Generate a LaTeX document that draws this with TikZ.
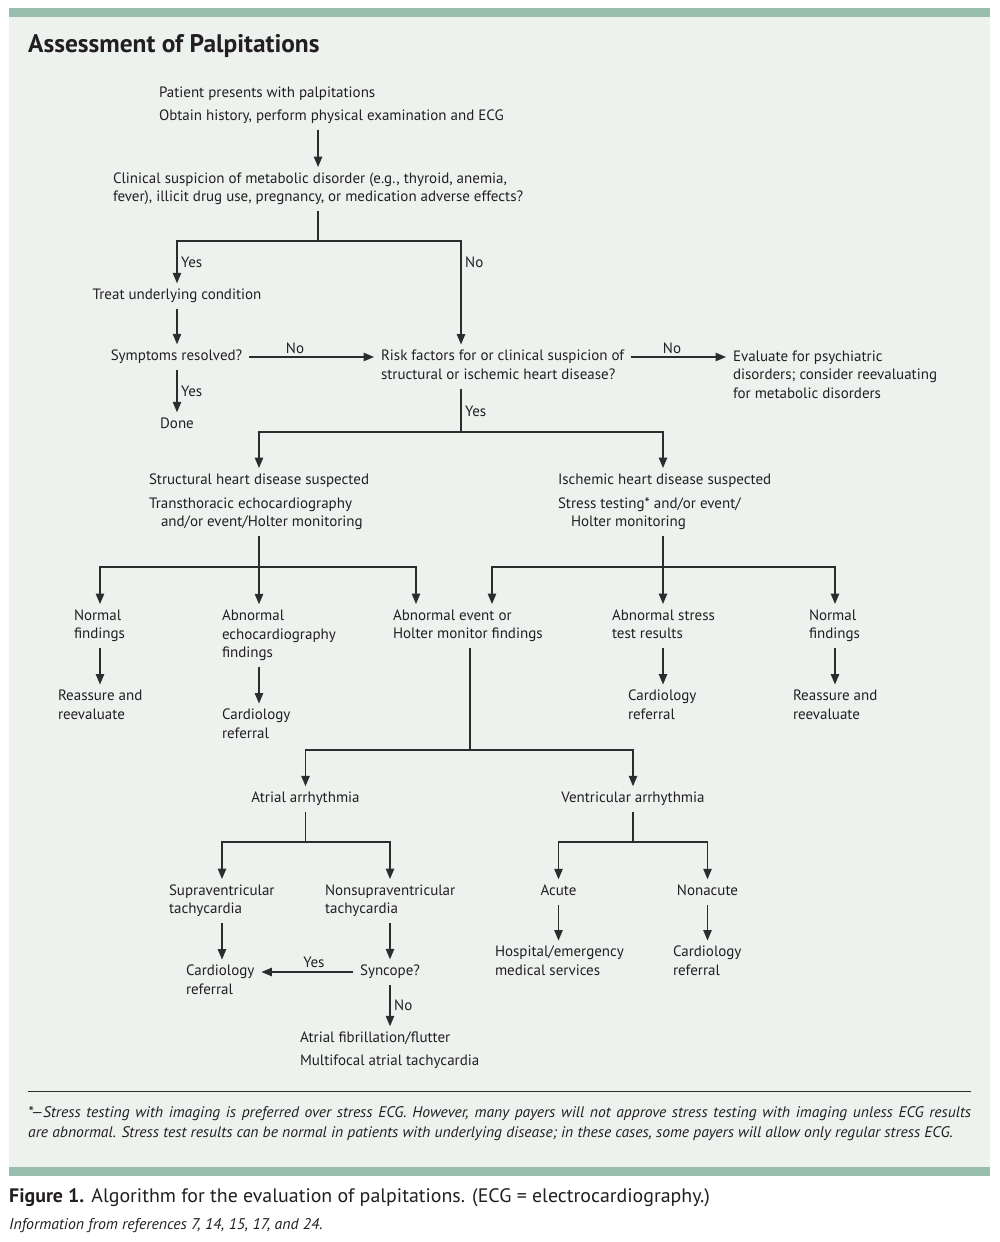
\documentclass[tikz,border=0pt]{standalone}
\usepackage{fontspec}
\setmainfont{PT Sans}
\newfontfamily\bodyf{PT Sans}
\newfontfamily\titlef{PT Sans}
\newfontfamily\notef{PT Sans}[FakeStretch=1.02]
\newfontfamily\capf{PT Sans}[FakeStretch=1.02]
\usetikzlibrary{arrows.meta}
\definecolor{bg}{RGB}{237,242,239}
\definecolor{bar}{RGB}{153,190,175}
\definecolor{ink}{RGB}{35,31,32}
\definecolor{linec}{RGB}{45,45,45}
\begin{document}
\begin{tikzpicture}[x=1pt,y=-1pt,
  txt/.style={font=\bodyf\fontsize{15}{18.5}\selectfont, text=ink, align=left, inner sep=0pt, outer xsep=7pt, outer ysep=3.5pt},
  lbl/.style={font=\bodyf\fontsize{15}{18.5}\selectfont, text=ink, inner sep=0pt},
  ln/.style={draw=linec, line width=1.2pt, line join=miter},
  arr/.style={ln, -{Triangle[length=10.5pt,width=8.5pt]}}]
\useasboundingbox (0,0) rectangle (1000,1242);
\fill[white] (0,0) rectangle (1000,1242);
\fill[bar] (9,8) rectangle (990,17);
\fill[bg] (9,17) rectangle (990,1167);
\fill[bar] (9,1167) rectangle (990,1176);

% column and level coordinates
\coordinate (xR) at (461,0);
\coordinate (xS) at (259,0);
\coordinate (xI) at (663,0);
\coordinate (xN1) at (100,0);
\coordinate (xE1) at (416,0);
\coordinate (xE2) at (492,0);
\coordinate (xN2) at (835,0);
\coordinate (xEv) at (470,0);
\coordinate (xSV) at (222,0);
\coordinate (xNS) at (390,0);
\coordinate (yA) at (0,241);
\coordinate (yB) at (0,432);
\coordinate (yC) at (0,567);
\coordinate (yD) at (0,750);
\coordinate (yE) at (0,842);

\node[anchor=base west, inner sep=0pt, text=ink, font=\titlef\bfseries\fontsize{25.4}{29}\selectfont] (title) at (28,52) {Assessment of Palpitations};

\node[txt, anchor=west] (n1) at (152,105.5) {\strut Patient presents with palpitations\\[4.5pt]Obtain history, perform physical examination and ECG\strut};
\node[txt, anchor=west] (n2) at (106,189) {\strut Clinical suspicion of metabolic disorder (e.g., thyroid, anemia,\\fever), illicit drug use, pregnancy, or medication adverse effects?\strut};
\node[txt] (n3) at (177,296) {\strut Treat underlying condition\strut};
\node[txt] (n4) at (176.5,357) {\strut Symptoms resolved?\strut};
\node[txt] (n5) at (177,425) {\strut Done\strut};
\node[txt, anchor=west] (n6) at (374,366.5) {\strut Risk factors for or clinical suspicion of\\structural or ischemic heart disease?\strut};
\node[txt, anchor=west] (n7) at (726,376) {\strut Evaluate for psychiatric\\disorders; consider reevaluating\\for metabolic disorders\strut};
\node[txt, anchor=west] (n8) at (142,502) {\strut Structural heart disease suspected\\[5.5pt]Transthoracic echocardiography\\\hspace*{12pt}and/or event/Holter monitoring\strut};
\node[txt, anchor=west] (n9) at (551,502) {\strut Ischemic heart disease suspected\\[5.5pt]Stress testing* and/or event/\\\hspace*{13pt}Holter monitoring\strut};
\node[txt, anchor=west] (n10a) at (67,626) {\strut Normal\\findings\strut};
\node[txt, anchor=west] (n10b) at (215,635.5) {\strut Abnormal\\echocardiography\\findings\strut};
\node[txt, anchor=west] (n10c) at (386,626) {\strut Abnormal event or\\Holter monitor findings\strut};
\node[txt, anchor=west] (n11b) at (605,626) {\strut Abnormal stress\\test results\strut};
\node[txt, anchor=west] (n11c) at (802,626) {\strut Normal\\findings\strut};
\node[txt, anchor=west] (n12a) at (51,706.5) {\strut Reassure and\\reevaluate\strut};
\node[txt, anchor=west] (n12b) at (215,725.5) {\strut Cardiology\\referral\strut};
\node[txt, anchor=west] (n13b) at (621,706.5) {\strut Cardiology\\referral\strut};
\node[txt, anchor=west] (n13c) at (786,706.5) {\strut Reassure and\\reevaluate\strut};
\node[txt] (n14) at (305.5,799) {\strut Atrial arrhythmia\strut};
\node[txt] (n15) at (633,799) {\strut Ventricular arrhythmia\strut};
\node[txt, anchor=west] (n16) at (162,901) {\strut Supraventricular\\tachycardia\strut};
\node[txt, anchor=west] (n17) at (318,901) {\strut Nonsupraventricular\\tachycardia\strut};
\node[txt] (n18) at (558.5,892) {\strut Acute\strut};
\node[txt] (n19) at (707.5,892) {\strut Nonacute\strut};
\node[txt, anchor=west] (n20) at (179,981.5) {\strut Cardiology\\referral\strut};
\node[txt] (n21) at (390,972) {\strut Syncope?\strut};
\node[txt, anchor=west] (n22) at (488,962.5) {\strut Hospital/emergency\\medical services\strut};
\node[txt, anchor=west] (n23) at (666,962.5) {\strut Cardiology\\referral\strut};
\node[txt, anchor=west] (n24) at (293,1050.5) {\strut Atrial fibrillation/flutter\\[4.5pt]Multifocal atrial tachycardia\strut};

% labels
\node[lbl, anchor=west] (l1) at (181,262) {Yes};
\node[lbl, anchor=west] (l2) at (465,262) {No};
\node[lbl] (l3) at (295,348) {No};
\node[lbl] (l4) at (672,348) {No};
\node[lbl, anchor=west] (l5) at (181,391) {Yes};
\node[lbl, anchor=west] (l6) at (465,411) {Yes};
\node[lbl] (l7) at (314,962) {Yes};
\node[lbl, anchor=west] (l8) at (394,1005) {No};

% connectors
\draw[arr] (n1.south -| n2.north) -- (n2.north);
\draw[ln] (n2.south) -- (n2.south |- yA);
\draw[arr] (n2.south |- yA) -| (n3.north);
\draw[arr] (n2.south |- yA) -| (n6.north -| xR);
\draw[arr] (n3.south) -- (n3.south |- n4.north);
\draw[arr] (n4.south -| n3.south) -- (n5.north -| n3.south);
\draw[arr] (n4.east) -- (n4.east -| n6.west);
\draw[arr] (n6.east |- n4.east) -- (n7.west |- n4.east);
\draw[arr] (n6.south -| xR) -- (xR |- yB) -| (n8.north -| xS);
\draw[arr] (xR |- yB) -| (n9.north -| xI);
\draw[arr] (n8.south -| xS) -- (n10b.north -| xS);
\draw[arr] (xS |- yC) -| (n10a.north -| xN1);
\draw[arr] (xS |- yC) -| (n10c.north -| xE1);
\draw[arr] (n9.south -| xI) -- (n11b.north -| xI);
\draw[arr] (xI |- yC) -| (n10c.north -| xE2);
\draw[arr] (xI |- yC) -| (n11c.north -| xN2);
\draw[arr] (n10a.south -| xN1) -- (n12a.north -| xN1);
\draw[arr] (n10b.south -| xS) -- (n12b.north -| xS);
\draw[arr] (n11b.south -| xI) -- (n13b.north -| xI);
\draw[arr] (n11c.south -| xN2) -- (n13c.north -| xN2);
\draw[arr] (n10c.south -| xEv) -- (xEv |- yD) -| (n14.north);
\draw[arr] (xEv |- yD) -| (n15.north);
\draw[arr] (n14.south) -- (n14.south |- yE) -| (n16.north -| xSV);
\draw[arr] (n14.south |- yE) -| (n17.north -| xNS);
\draw[arr] (n15.south) -- (n15.south |- yE) -| (n18.north);
\draw[arr] (n15.south |- yE) -| (n19.north);
\draw[arr] (n16.south -| xSV) -- (n20.north -| xSV);
\draw[arr] (n17.south -| xNS) -- (n21.north -| xNS);
\draw[arr] (n18.south) -- (n22.north -| n18.south);
\draw[arr] (n19.south) -- (n23.north -| n19.south);
\draw[arr] (n21.west) -- (n21.west -| n20.east);
\draw[arr] (n21.south -| xNS) -- (n24.north -| xNS);

% footnote
\draw[draw=linec, line width=1pt] (28,1091) -- (971,1091);
\node[anchor=west, inner sep=0pt, text=ink, align=left, font=\notef\itshape\fontsize{15.3}{20}\selectfont] (fn) at (28,1123) {\strut\makebox[943pt][s]{*—Stress testing with imaging is preferred over stress ECG. However, many payers will not approve stress testing with imaging unless ECG results}\\are abnormal. Stress test results can be normal in patients with underlying disease; in these cases, some payers will allow only regular stress ECG.\strut};

% caption
\node[anchor=base west, inner sep=0pt, text=ink, font=\capf\fontsize{19.5}{23}\selectfont] (cap) at (9,1202) {\textbf{Figure 1.} Algorithm for the evaluation of palpitations. (ECG = electrocardiography.)};
\node[anchor=base west, inner sep=0pt, text=ink, font=\capf\itshape\fontsize{15.5}{18}\selectfont] (info) at (9,1229) {Information from references 7, 14, 15, 17, and 24.};
\end{tikzpicture}
\end{document}
